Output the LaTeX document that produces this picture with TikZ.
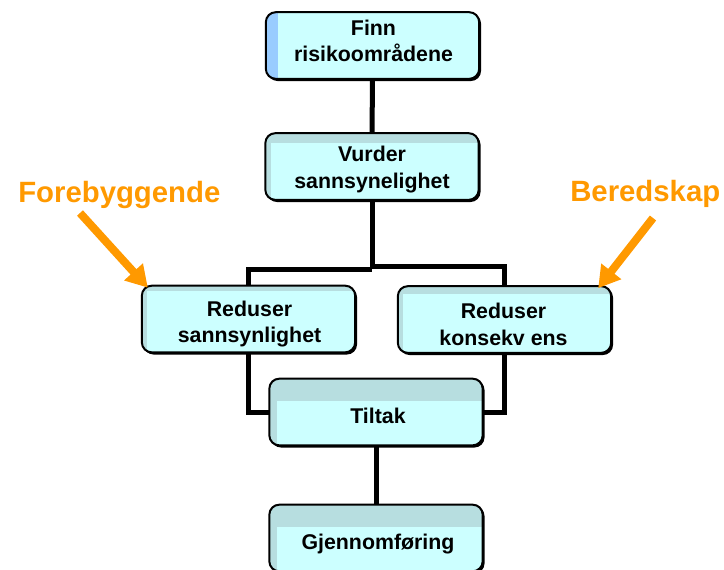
\documentclass[tikz,border=0pt]{standalone}
\usepackage{fontspec}
\setmainfont{Liberation Sans}
\usetikzlibrary{arrows.meta,calc}

\definecolor{boxfill}{RGB}{204,255,255}
\definecolor{boxband}{RGB}{183,222,224}
\definecolor{boxblue}{RGB}{153,204,255}
\definecolor{hintorange}{RGB}{255,153,0}

\tikzset{
  % rounded box: band colour underneath, light cyan inset from the top-left
  stepbox/.style n args={3}{
    rectangle, draw=none, outer sep=0pt, inner sep=0pt,
    minimum width=160pt, minimum height=50pt,
    rounded corners=7.5pt, fill=#1,
    path picture={\fill[boxfill, sharp corners]
      ([xshift=#2,yshift=-#3]path picture bounding box.north west)
      rectangle (path picture bounding box.south east);}},
  boxedge/.style={draw=black, line width=1.5pt, rounded corners=7.5pt},
  boxshade/.style={fill=black, rounded corners=7.5pt},
  steptext/.style={align=center, inner sep=0pt,
    font=\bfseries\fontsize{16}{20}\selectfont},
  link/.style={draw=black, line width=3.75pt},
  hint/.style={draw=hintorange, line width=6pt,
    -{Triangle[length=16pt,width=18pt]}},
  hintlabel/.style={text=hintorange, inner sep=0pt,
    font=\bfseries\fontsize{22}{26}\selectfont},
}

\begin{document}
\begin{tikzpicture}[x=0.75pt,y=-0.75pt]
  \clip (0,0) rectangle (724,569);

  % soft shadows under the boxes
  \foreach \cx/\cy in {372.5/45.5, 372/166.5, 248.5/319, 504.5/319.5, 376/412, 376/538}
    \fill[boxshade] (\cx-105,\cy-32) rectangle (\cx+108.5,\cy+35.5);

  % process boxes
  \node[stepbox={boxblue}{9pt}{0pt}]    (finn)   at (372.5,45.5)  {};
  \node[stepbox={boxband}{4.5pt}{7pt}]  (vurder) at (372,166.5)   {};
  \node[stepbox={boxband}{4pt}{4pt}]    (redsan) at (248.5,319)   {};
  \node[stepbox={boxband}{4pt}{6pt}]    (redkon) at (504.5,319.5) {};
  \node[stepbox={boxband}{6pt}{17pt}]   (tiltak) at (376,412)     {};
  \node[stepbox={boxband}{6pt}{17pt}]   (gjen)   at (376,538)     {};

  \foreach \n in {finn,vurder,redsan,redkon,tiltak,gjen}
    \draw[boxedge] (\n.north west) rectangle (\n.south east);

  % box texts
  \node[steptext] (finn-t)   at ($(finn)+(1,-4.5)$)   {Finn\\risikoområdene};
  \node[steptext] (vurder-t) at ($(vurder)+(0,3)$)    {Vurder\\sannsynelighet};
  \node[steptext] (redsan-t) at ($(redsan)+(1,5)$)    {Reduser\\sannsynlighet};
  \node[steptext] (redkon-t) at ($(redkon)+(-1,5)$)   {Reduser\\konsekv ens};
  \node[steptext] (tiltak-t) at ($(tiltak)+(2,4)$)    {Tiltak};
  \node[steptext] (gjen-t)   at ($(gjen)+(2,6)$)      {Gjennomføring};

  % connectors
  \coordinate (splitleft)  at (372,269);
  \coordinate (splitright) at (372,266);
  \draw[link] (finn) -- (vurder);
  \draw[link] (vurder.south) -- (splitleft);
  \draw[link] (redsan.north) |- (splitleft);
  \draw[link] (splitright) -| (redkon.north);
  \draw[link] (redsan.south) |- (tiltak.west);
  \draw[link] (redkon.south) |- (tiltak.east);
  \draw[link] (tiltak) -- (gjen);

  % side labels with arrows
  \node[hintlabel, anchor=base west] (prev) at (18,202)  {Forebyggende};
  \node[hintlabel, anchor=base west] (prep) at (570,201) {Beredskap};
  \coordinate (prevtail) at (80,213);
  \coordinate (preptail) at (653,218);
  \draw[hint] (prevtail) -- ($(redsan.north west)+(6,2)$);
  \draw[hint] (preptail) -- ($(redkon.north east)+(-13,2)$);
\end{tikzpicture}
\end{document}
